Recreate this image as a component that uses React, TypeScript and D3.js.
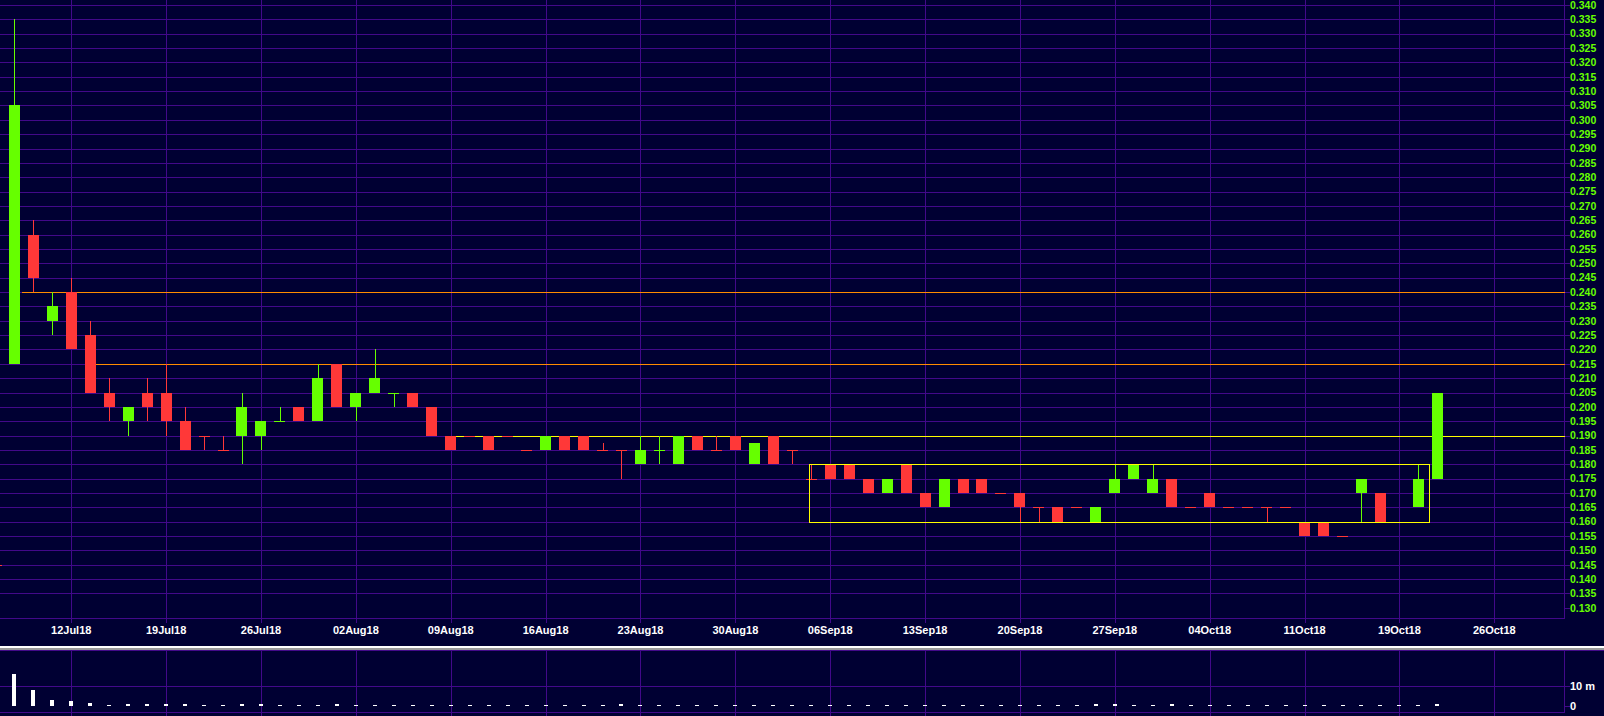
import React from 'react';
import * as d3 from 'd3';

const W = 1604;
const H = 716;

// ---- Data (daily OHLC, price in currency units) ----
const opens = [
  0.215, 0.26, 0.23, 0.24, 0.225, 0.205, 0.195, 0.205, 0.205, 0.195,
  0.19, 0.185, 0.19, 0.19, 0.195, 0.2, 0.195, 0.215, 0.2, 0.205,
  0.205, 0.205, 0.2, 0.19, 0.19, 0.19, 0.19, 0.185, 0.185, 0.19,
  0.19, 0.185, 0.185, 0.18, 0.185, 0.18, 0.19, 0.185, 0.19, 0.18,
  0.19, 0.185, 0.175, 0.18, 0.18, 0.175, 0.17, 0.18, 0.17, 0.165,
  0.175, 0.175, 0.17, 0.17, 0.165, 0.165, 0.165, 0.16, 0.17, 0.175,
  0.17, 0.175, 0.165, 0.17, 0.165, 0.165, 0.165, 0.165, 0.16, 0.16,
  0.155, 0.17, 0.17, 0.16, 0.165, 0.175,
];
const highs = [
  0.335, 0.265, 0.24, 0.245, 0.23, 0.21, 0.2, 0.21, 0.215, 0.2,
  0.19, 0.19, 0.205, 0.195, 0.2, 0.2, 0.215, 0.215, 0.205, 0.22,
  0.205, 0.205, 0.2, 0.19, 0.19, 0.19, 0.19, 0.185, 0.19, 0.19,
  0.19, 0.1875, 0.185, 0.19, 0.19, 0.19, 0.19, 0.19, 0.19, 0.1875,
  0.19, 0.185, 0.18, 0.18, 0.18, 0.175, 0.175, 0.18, 0.17, 0.175,
  0.175, 0.175, 0.17, 0.17, 0.165, 0.165, 0.165, 0.165, 0.18, 0.18,
  0.18, 0.175, 0.165, 0.17, 0.165, 0.165, 0.165, 0.165, 0.16, 0.16,
  0.155, 0.175, 0.17, 0.16, 0.18, 0.205,
];
const lows = [
  0.215, 0.24, 0.225, 0.22, 0.205, 0.195, 0.19, 0.195, 0.19, 0.185,
  0.185, 0.185, 0.18, 0.185, 0.195, 0.195, 0.195, 0.2, 0.195, 0.205,
  0.2, 0.2, 0.19, 0.185, 0.19, 0.185, 0.19, 0.185, 0.185, 0.185,
  0.185, 0.185, 0.175, 0.18, 0.18, 0.18, 0.185, 0.185, 0.185, 0.18,
  0.18, 0.18, 0.175, 0.175, 0.175, 0.17, 0.17, 0.17, 0.165, 0.165,
  0.17, 0.17, 0.17, 0.16, 0.16, 0.16, 0.165, 0.16, 0.17, 0.175,
  0.17, 0.165, 0.165, 0.165, 0.165, 0.165, 0.16, 0.165, 0.155, 0.155,
  0.155, 0.16, 0.16, 0.16, 0.165, 0.175,
];
const closes = [
  0.305, 0.245, 0.235, 0.22, 0.205, 0.2, 0.2, 0.2, 0.195, 0.185,
  0.19, 0.185, 0.2, 0.195, 0.195, 0.195, 0.21, 0.2, 0.205, 0.21,
  0.205, 0.2, 0.19, 0.185, 0.19, 0.185, 0.19, 0.185, 0.19, 0.185,
  0.185, 0.185, 0.185, 0.185, 0.185, 0.19, 0.185, 0.185, 0.185, 0.1875,
  0.18, 0.185, 0.175, 0.175, 0.175, 0.17, 0.175, 0.17, 0.165, 0.175,
  0.17, 0.17, 0.17, 0.165, 0.165, 0.16, 0.165, 0.165, 0.175, 0.18,
  0.175, 0.165, 0.165, 0.165, 0.165, 0.165, 0.165, 0.165, 0.155, 0.155,
  0.155, 0.175, 0.16, 0.16, 0.175, 0.205,
];
// volume in millions
const volumes = [
  16.2, 8.1, 3.0, 2.7, 1.5, 0.5, 1.0, 1.0, 1.0, 1.0,
  0.5, 0.3, 1.0, 1.0, 0.5, 0.3, 0.5, 1.0, 0.5, 0.5,
  0.3, 0.5, 0.3, 0.3, 0.3, 0.3, 0.3, 0.3, 0.3, 0.3,
  0.3, 0.3, 0.8, 0.3, 0.3, 0.3, 0.3, 0.3, 0.3, 0.3,
  0.3, 0.3, 0.3, 0.3, 0.3, 0.3, 0.3, 0.3, 0.3, 0.3,
  0.3, 0.3, 0.3, 0.3, 0.3, 0.3, 0.3, 0.8, 0.8, 0.3,
  0.3, 1.0, 0.3, 0.3, 0.3, 0.3, 0.3, 0.3, 0.3, 0.3,
  0.3, 0.3, 0.3, 0.3, 0.6, 1.0,
];
// unchanged-price sessions shown in green
const dojiUp = [14, 20, 34];

const dateTickIndex = [3, 8, 13, 18, 23, 28, 33, 38, 43, 48, 53, 58, 63, 68, 73, 78];
const dateTickLabels = [
  '12Jul18', '19Jul18', '26Jul18', '02Aug18', '09Aug18', '16Aug18', '23Aug18', '30Aug18',
  '06Sep18', '13Sep18', '20Sep18', '27Sep18', '04Oct18', '11Oct18', '19Oct18', '26Oct18',
];
const priceTickLabels = [
  '0.130', '0.135', '0.140', '0.145', '0.150', '0.155', '0.160', '0.165', '0.170', '0.175',
  '0.180', '0.185', '0.190', '0.195', '0.200', '0.205', '0.210', '0.215', '0.220', '0.225',
  '0.230', '0.235', '0.240', '0.245', '0.250', '0.255', '0.260', '0.265', '0.270', '0.275',
  '0.280', '0.285', '0.290', '0.295', '0.300', '0.305', '0.310', '0.315', '0.320', '0.325',
  '0.330', '0.335', '0.340',
];
const volumeTickValues = [0, 10];
const volumeTickLabels = ['0', '10 m'];

// horizontal support / resistance lines
const levelValues = [0.24, 0.215, 0.19];
const levelStartIndex = [0.4, 4.3, 23.3];
const levelColors = ['#ff8c00', '#ff8c00', '#ffff00'];

// consolidation range box
const boxPrices = [0.16, 0.18];
const boxIndex = [41.9, 74.57];

// stray marker at left edge
const edgeMarkPrice = 0.145;

// ---- Styles ----
const BG = '#000033';
const GRID = '#42098a';
const GREEN = '#66ff00';
const RED = '#ff3838';
const FONT = '"Liberation Sans", Arial, sans-serif';

const AXIS_X = 1564.5;
const PRICE_BOTTOM = 618.5;
const VOL_TOP = 650.5;
const VOL_BOTTOM = 712.5;

export default function App() {
  const x = d3.scaleLinear().domain([0, 78]).range([14.3, 1494.3]);
  const y = d3.scaleLinear().domain([0.13, 0.34]).range([607.8, 5]);
  const yv = d3.scaleLinear().domain([0, 10]).range([706, 686.3]);

  const candles = opens.map((o, i) => ({
    i,
    o,
    h: highs[i],
    l: lows[i],
    c: closes[i],
    v: volumes[i],
  }));

  const colorOf = (d: any) =>
    d.c > d.o ? GREEN : d.c < d.o ? RED : dojiUp.includes(d.i) ? GREEN : RED;

  const priceTickValues = priceTickLabels.map((s) => +s);
  const bodyW = 11;

  return (
    <svg
      width={W}
      height={H}
      style={{ position: 'fixed', left: 0, top: 0, display: 'block', background: BG }}
      shapeRendering="crispEdges"
    >
      <rect x={0} y={0} width={W} height={H} fill={BG} />

      {/* price grid - horizontal */}
      {priceTickValues.map((v, k) =>
        v > 0.1301 ? (
          <line key={'hg' + k} x1={0} x2={AXIS_X} y1={Math.round(y(v)) + 0.5} y2={Math.round(y(v)) + 0.5} stroke={GRID} strokeWidth={1} />
        ) : null
      )}
      {/* price grid - vertical */}
      {dateTickIndex.map((ix, k) => (
        <line key={'vg' + k} x1={Math.round(x(ix)) + 0.5} x2={Math.round(x(ix)) + 0.5} y1={0} y2={PRICE_BOTTOM + 4} stroke={GRID} strokeWidth={1} />
      ))}
      {/* axis frame */}
      <line x1={0} x2={AXIS_X} y1={PRICE_BOTTOM} y2={PRICE_BOTTOM} stroke={GRID} />
      <line x1={AXIS_X} x2={AXIS_X} y1={0} y2={PRICE_BOTTOM} stroke={GRID} />

      {/* level lines */}
      {levelValues.map((v, k) => (
        <line key={'lv' + k} x1={x(levelStartIndex[k])} x2={AXIS_X} y1={Math.round(y(v)) + 0.5} y2={Math.round(y(v)) + 0.5} stroke={levelColors[k]} strokeWidth={1} />
      ))}

      {/* edge marker */}
      <rect x={0} y={Math.round(y(edgeMarkPrice))} width={1.5} height={1} fill={RED} />

      {/* candles */}
      {candles.map((d) => {
        const cx = x(d.i);
        const col = colorOf(d);
        const top = y(Math.max(d.o, d.c));
        const bot = y(Math.min(d.o, d.c));
        const left = Math.round(cx - bodyW / 2);
        return (
          <g key={'c' + d.i}>
            <rect x={Math.round(cx) - 0.5} y={y(d.h)} width={1} height={Math.max(0, y(d.l) - y(d.h))} fill={col} />
            {bot - top > 0.5 ? (
              <rect x={left} y={top} width={bodyW} height={bot - top} fill={col} />
            ) : (
              <rect x={left} y={Math.round(top)} width={bodyW} height={1} fill={col} />
            )}
          </g>
        );
      })}

      {/* range box */}
      <rect
        x={Math.round(x(boxIndex[0])) + 0.5}
        y={Math.round(y(boxPrices[1])) + 0.5}
        width={Math.round(x(boxIndex[1])) - Math.round(x(boxIndex[0]))}
        height={Math.round(y(boxPrices[0])) - Math.round(y(boxPrices[1]))}
        fill="none"
        stroke="#ffff00"
        strokeWidth={1}
      />

      {/* price axis ticks and labels */}
      {priceTickValues.map((v, k) => (
        <g key={'pt' + k}>
          <line x1={AXIS_X} x2={AXIS_X + 5} y1={Math.round(y(v)) + 0.5} y2={Math.round(y(v)) + 0.5} stroke={GRID} />
          <text
            x={1570}
            y={y(v)}
            dy="0.36em"
            fill={GREEN}
            fontFamily={FONT}
            fontWeight="bold"
            fontSize={10.5}
            shapeRendering="auto"
          >
            {priceTickLabels[k]}
          </text>
        </g>
      ))}

      {/* date labels */}
      {dateTickIndex.map((ix, k) => (
        <text
          key={'dl' + k}
          x={x(ix)}
          y={634}
          textAnchor="middle"
          fill="#ffffff"
          fontFamily={FONT}
          fontWeight="bold"
          fontSize={11}
        >
          {dateTickLabels[k]}
        </text>
      ))}

      {/* separator */}
      <rect x={0} y={646} width={W} height={2} fill="#ffffff" />
      <rect x={0} y={648} width={W} height={1.5} fill="#9a9a9a" />

      {/* volume panel */}
      <line x1={0} x2={W} y1={VOL_TOP} y2={VOL_TOP} stroke={GRID} />
      <line x1={0} x2={AXIS_X} y1={Math.round(yv(10)) + 0.5} y2={Math.round(yv(10)) + 0.5} stroke={GRID} />
      <line x1={0} x2={AXIS_X} y1={VOL_BOTTOM} y2={VOL_BOTTOM} stroke={GRID} />
      <line x1={AXIS_X} x2={AXIS_X} y1={VOL_TOP} y2={VOL_BOTTOM} stroke={GRID} />
      {dateTickIndex.map((ix, k) => (
        <line key={'vvg' + k} x1={Math.round(x(ix)) + 0.5} x2={Math.round(x(ix)) + 0.5} y1={VOL_TOP} y2={H} stroke={GRID} />
      ))}
      {candles.map((d) => {
        const top = yv(d.v);
        return (
          <rect
            key={'v' + d.i}
            x={Math.round(x(d.i)) - 2}
            y={Math.min(top, yv(0) - 1)}
            width={4}
            height={Math.max(1, yv(0) - top)}
            fill="#ffffff"
          />
        );
      })}
      {volumeTickValues.map((v, k) => (
        <g key={'vt' + k}>
          <line x1={AXIS_X} x2={AXIS_X + 5} y1={Math.round(yv(v)) + 0.5} y2={Math.round(yv(v)) + 0.5} stroke={GRID} />
          <text x={1570} y={yv(v)} dy="0.36em" fill="#ffffff" fontFamily={FONT} fontWeight="bold" fontSize={11}>
            {volumeTickLabels[k]}
          </text>
        </g>
      ))}
    </svg>
  );
}
